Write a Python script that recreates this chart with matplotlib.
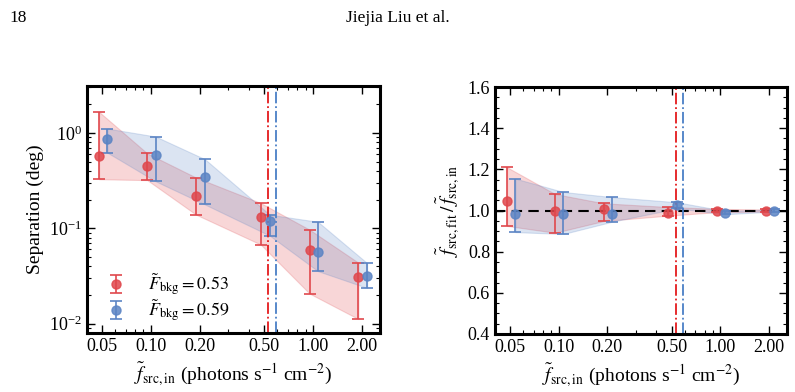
import matplotlib
matplotlib.use("Agg")
import matplotlib.pyplot as plt
import numpy as np
from matplotlib.ticker import FixedLocator, NullFormatter, AutoMinorLocator, LogLocator

plt.rcParams['font.family'] = ['Liberation Serif', 'DejaVu Serif']
plt.rcParams['mathtext.fontset'] = 'stix'
plt.rcParams['font.size'] = 13

# ---- data ----
x_red = [0.048, 0.095, 0.19, 0.475, 0.95, 1.9]
x_blue = [0.054, 0.107, 0.215, 0.54, 1.07, 2.15]
xticks = [0.05, 0.10, 0.20, 0.50, 1.00, 2.00]
xtick_labels = ['0.05', '0.10', '0.20', '0.50', '1.00', '2.00']
fbkg_red = 0.53
fbkg_blue = 0.59

sep_red = [0.57, 0.446, 0.219, 0.132, 0.0594, 0.0306]
sep_red_hi = [1.66, 0.61, 0.34, 0.184, 0.0968, 0.0436]
sep_red_lo = [0.327, 0.32, 0.139, 0.0676, 0.0207, 0.0112]
sep_blue = [0.873, 0.58, 0.348, 0.12, 0.057, 0.0314]
sep_blue_hi = [1.11, 0.916, 0.531, 0.139, 0.117, 0.0432]
sep_blue_lo = [0.62, 0.311, 0.178, 0.0838, 0.0356, 0.0237]

rat_red = [1.046, 1.0, 1.005, 0.99, 1.0, 1.0]
rat_red_hi = [1.21, 1.08, 1.035, 1.017, 1.008, 1.005]
rat_red_lo = [0.925, 0.892, 0.949, 0.975, 0.992, 0.995]
rat_blue = [0.985, 0.985, 0.985, 1.025, 0.99, 1.0]
rat_blue_hi = [1.155, 1.09, 1.065, 1.04, 0.998, 1.005]
rat_blue_lo = [0.895, 0.886, 0.946, 1.01, 0.982, 0.995]

c_red = '#e0474c'
c_blue = '#5b84c4'
c_vred = '#e41a1c'
c_vblue = '#4a7fc6'

fig = plt.figure(figsize=(7.95, 3.92), dpi=100)
fig.text(0.012, 0.975, '18', ha='left', va='top', fontsize=12.5)
fig.text(0.5, 0.975, 'Jiejia Liu et al.', ha='center', va='top', fontsize=12.5)

ax1 = fig.add_axes([0.1094, 0.1505, 0.3686, 0.6301])
ax2 = fig.add_axes([0.6226, 0.148, 0.3674, 0.630])


def draw(ax, xs, y, lo, hi, color, label):
    y = np.array(y); lo = np.array(lo); hi = np.array(hi)
    ax.fill_between(xs, lo, hi, color=color, alpha=0.22, lw=0.8)
    ax.errorbar(xs, y, yerr=[y - lo, hi - y], fmt='o', color=color, ms=6.5,
                capsize=4, elinewidth=1.4, capthick=1.4, alpha=0.85, label=label)


lab_r = r'$\tilde{F}_{\rm bkg} = 0.53$'
lab_b = r'$\tilde{F}_{\rm bkg} = 0.59$'

draw(ax1, x_red, sep_red, sep_red_lo, sep_red_hi, c_red, lab_r)
draw(ax1, x_blue, sep_blue, sep_blue_lo, sep_blue_hi, c_blue, lab_b)
draw(ax2, x_red, rat_red, rat_red_lo, rat_red_hi, c_red, lab_r)
draw(ax2, x_blue, rat_blue, rat_blue_lo, rat_blue_hi, c_blue, lab_b)

ax2.axhline(1.0, color='k', ls='--', lw=1.5, dashes=(5, 3), zorder=1.5)

for ax in (ax1, ax2):
    ax.axvline(fbkg_red, color=c_vred, ls='-.', lw=1.3)
    ax.axvline(fbkg_blue, color=c_vblue, ls='-.', lw=1.3)
    ax.set_xscale('log')
    ax.set_xlim(0.0404, 2.58)
    ax.xaxis.set_major_locator(FixedLocator(xticks))
    ax.set_xticklabels(xtick_labels)
    ax.xaxis.set_minor_locator(LogLocator(base=10, subs=np.arange(1, 10)))
    ax.xaxis.set_minor_formatter(NullFormatter())
    ax.tick_params(which='both', direction='in', top=True, right=True)
    ax.tick_params(which='major', length=6, width=1.0, labelsize=13)
    ax.tick_params(which='minor', length=3, width=0.8)
    for s in ax.spines.values():
        s.set_linewidth(2.2)
    ax.set_xlabel(r'$\tilde{f}_{\rm src,in}$ (photons s$^{-1}$ cm$^{-2}$)', fontsize=14)

ax1.set_yscale('log')
ax1.set_ylim(0.008, 3.1)
ax1.set_ylabel('Separation (deg)', fontsize=14)
leg = ax1.legend(loc='lower left', frameon=False, fontsize=13, handlelength=1.6,
                 handletextpad=0.95, labelspacing=0.0, borderpad=0.4,
                 borderaxespad=0.0, bbox_to_anchor=(0.025, 0.01))

ax2.set_ylim(0.4, 1.6)
ax2.set_yticks([0.4, 0.6, 0.8, 1.0, 1.2, 1.4, 1.6])
ax2.yaxis.set_minor_locator(AutoMinorLocator(4))
ax2.set_ylabel(r'$\tilde{f}_{\rm src,fit}\,/\,\tilde{f}_{\rm src,in}$', fontsize=14)

fig.savefig('out.png', dpi=100)
